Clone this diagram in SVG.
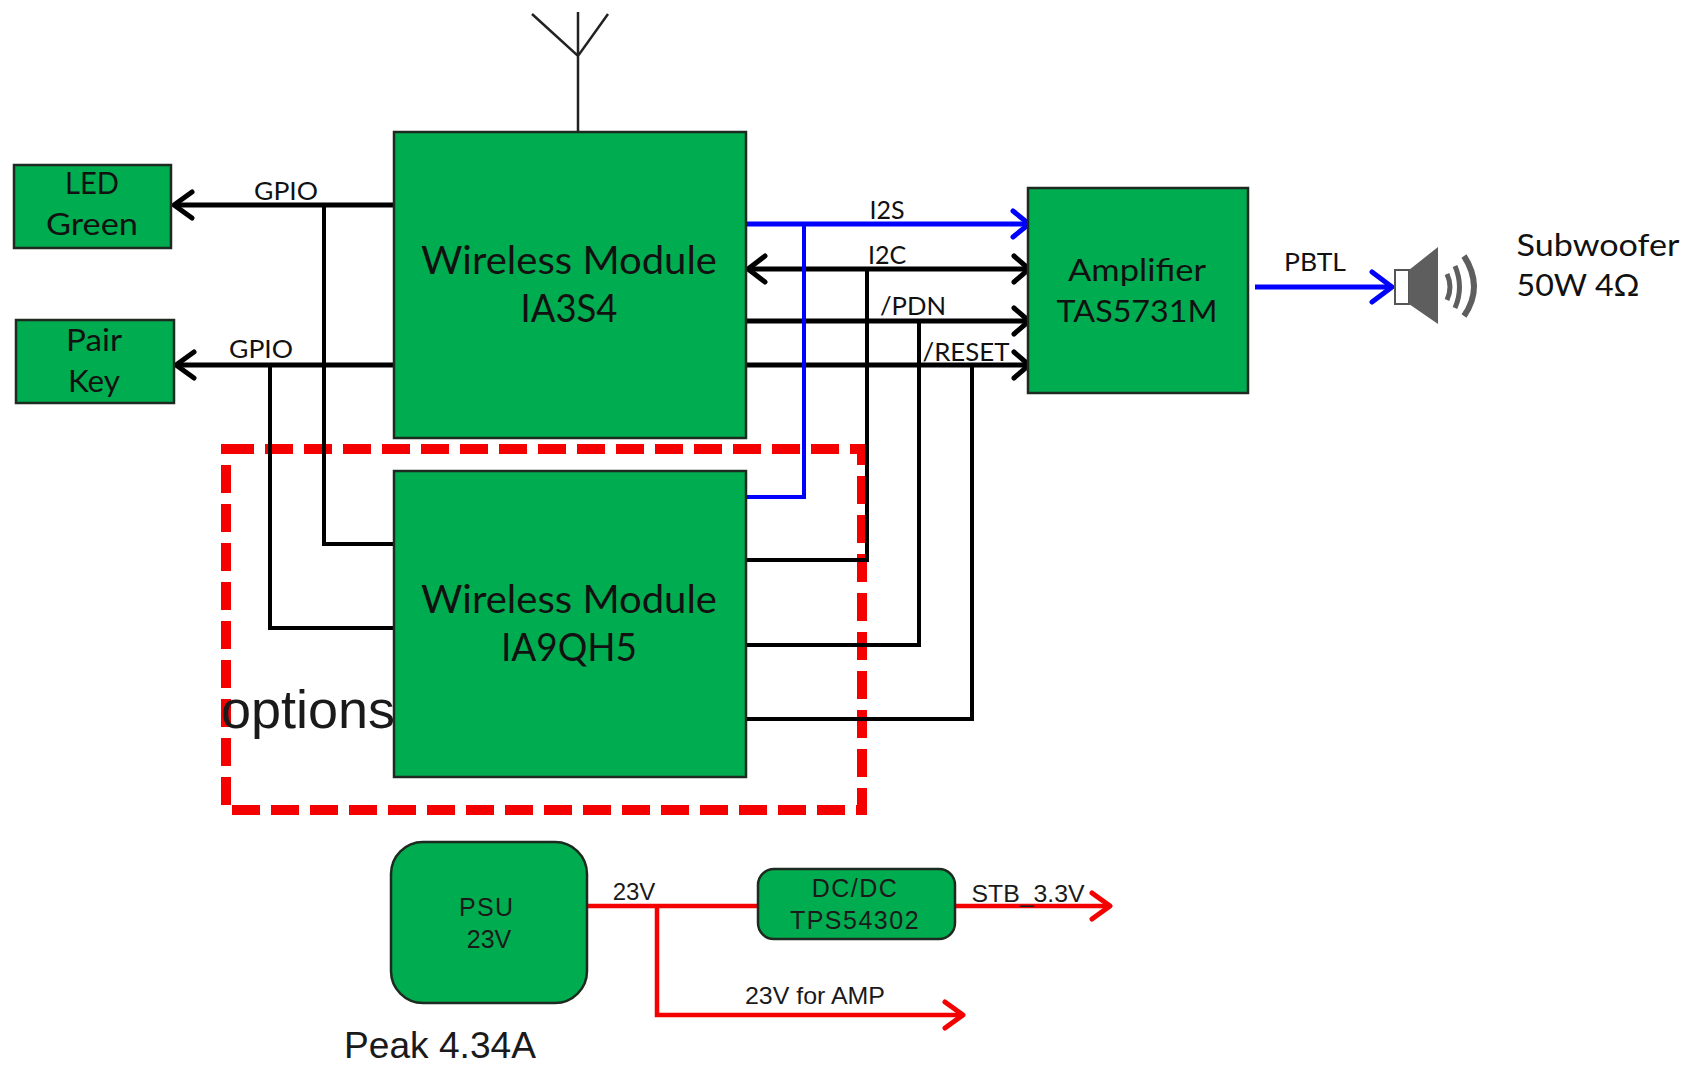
<svg xmlns="http://www.w3.org/2000/svg" width="1693" height="1066" viewBox="0 0 1693 1066">
<style>
.box{fill:#00ac50;stroke:#1c2a20;stroke-width:2.5}
.t{font-family:Lato,"Liberation Sans",sans-serif;fill:#111;text-anchor:middle}
.a{font-family:"Liberation Sans",Arial,sans-serif;fill:#1a1a1a;text-anchor:middle}
.k{fill:none;stroke:#000;stroke-width:4}
.kb{fill:none;stroke:#000;stroke-width:5}
.b{fill:none;stroke:#0000ff;stroke-width:4}
.r{fill:none;stroke:#f40000;stroke-width:4.5}
.h{fill:none;stroke-width:5;stroke-linecap:round;stroke-linejoin:round}
</style>
<rect width="1693" height="1066" fill="#fff"/>
<g id="options">
<rect x="226" y="449" width="636" height="361" fill="none" stroke="#f40000" stroke-width="10" stroke-dasharray="28 11"/>
<text class="a" x="308" y="728" font-size="54">options</text>
</g>
<g id="connectors">
<path class="k" d="M324 205V544H394M270 365V628H394M746 560H867V269M746 645H919V321M746 719H972V365"/>
<path class="kb" d="M394 205H176M394 365H178M1026 269H750M746 321H1026M746 365H1026"/>
<path class="h" stroke="#000" d="M192 192L174 205L192 218M194 352L176 365L194 378M765 256L748 269L765 282M1014 256L1029 269L1014 282M1014 308L1029 321L1014 334M1014 352L1029 365L1014 378"/>
<path class="kb" style="stroke:#0000ff" d="M746 224H1026M1255 287H1390"/>
<path class="b" d="M804 224V497H746"/>
<path class="h" stroke="#0000ff" d="M1013 211L1029 224L1013 237M1372 272L1392 287L1372 302"/>
<path class="r" d="M587 906H758M955 906H1108M657 906V1015H960"/>
<path class="h" stroke="#f40000" d="M1092 893L1110 906L1092 919M945 1002L963 1015L945 1028"/>
<path fill="none" stroke="#222" stroke-width="2.5" d="M578 132V12M532 14L578 56L608 14"/>
</g>
<g id="led-green"><rect class="box" x="14" y="165" width="157" height="83"/>
<text class="t" x="92" y="194" font-size="30" textLength="54" lengthAdjust="spacingAndGlyphs">LED</text><text class="t" x="92" y="235" font-size="30" textLength="92" lengthAdjust="spacingAndGlyphs">Green</text></g>
<g id="pair-key"><rect class="box" x="16" y="320" width="158" height="83"/>
<text class="t" x="94" y="351" font-size="30" textLength="56" lengthAdjust="spacingAndGlyphs">Pair</text><text class="t" x="94" y="392" font-size="30" textLength="52" lengthAdjust="spacingAndGlyphs">Key</text></g>
<g id="wireless-1"><rect class="box" x="394" y="132" width="352" height="306"/>
<text class="t" x="569" y="274" font-size="38" textLength="296" lengthAdjust="spacingAndGlyphs">Wireless Module</text><text class="t" x="569" y="322" font-size="38" textLength="97" lengthAdjust="spacingAndGlyphs">IA3S4</text></g>
<g id="wireless-2"><rect class="box" x="394" y="471" width="352" height="306"/>
<text class="t" x="569" y="613" font-size="38" textLength="296" lengthAdjust="spacingAndGlyphs">Wireless Module</text><text class="t" x="569" y="661" font-size="38" textLength="136" lengthAdjust="spacingAndGlyphs">IA9QH5</text></g>
<g id="amplifier"><rect class="box" x="1028" y="188" width="220" height="205"/>
<text class="t" x="1137" y="281" font-size="31" textLength="138" lengthAdjust="spacingAndGlyphs">Amplifier</text><text class="t" x="1137" y="322" font-size="31" textLength="161" lengthAdjust="spacingAndGlyphs">TAS5731M</text></g>
<g id="psu"><rect class="box" x="391" y="842" width="196" height="161" rx="32"/>
<text class="a" x="486" y="916" font-size="25" textLength="54">PSU</text><text class="a" x="489" y="948" font-size="25">23V</text></g>
<g id="dcdc"><rect class="box" x="758" y="869" width="197" height="70" rx="16"/>
<text class="a" x="855" y="897" font-size="25" letter-spacing="1.5">DC/DC</text><text class="a" x="855" y="929" font-size="25" letter-spacing="1.5">TPS54302</text></g>
<g id="speaker">
<rect x="1395" y="270" width="14" height="34" fill="#fff" stroke="#555" stroke-width="2"/>
<path d="M1409 270L1438 247V324L1409 304Z" fill="#5e5e5e"/>
<path fill="none" stroke="#5e5e5e" stroke-width="5" d="M1447 274Q1453 287 1447 300M1455 266Q1464 287 1455 308"/>
<path fill="none" stroke="#5e5e5e" stroke-width="6" d="M1464 256Q1484 287 1464 316"/>
</g>
<g id="labels">
<text class="t" x="286" y="200" font-size="25" textLength="64" lengthAdjust="spacingAndGlyphs">GPIO</text>
<text class="t" x="261" y="358" font-size="25" textLength="64" lengthAdjust="spacingAndGlyphs">GPIO</text>
<text class="t" x="887" y="219" font-size="25">I2S</text>
<text class="t" x="887" y="264" font-size="25">I2C</text>
<text class="t" x="913" y="315" font-size="25" textLength="66" lengthAdjust="spacingAndGlyphs">/PDN</text>
<text class="t" x="966" y="361" font-size="25" textLength="87" lengthAdjust="spacingAndGlyphs">/RESET</text>
<text class="t" x="1315" y="271" font-size="25" textLength="62" lengthAdjust="spacingAndGlyphs">PBTL</text>
<text class="t" x="1598" y="256" font-size="31" textLength="163" lengthAdjust="spacingAndGlyphs">Subwoofer</text>
<text class="t" x="1578" y="296" font-size="31" textLength="123" lengthAdjust="spacingAndGlyphs">50W 4Ω</text>
<text class="a" x="634" y="900" font-size="24">23V</text>
<text class="a" x="1028" y="902" font-size="24" textLength="113" lengthAdjust="spacingAndGlyphs">STB_3.3V</text>
<text class="a" x="815" y="1004" font-size="24" textLength="140" lengthAdjust="spacingAndGlyphs">23V for AMP</text>
<text class="a" x="440" y="1058" font-size="36" textLength="192" lengthAdjust="spacingAndGlyphs">Peak 4.34A</text>
</g>
</svg>
